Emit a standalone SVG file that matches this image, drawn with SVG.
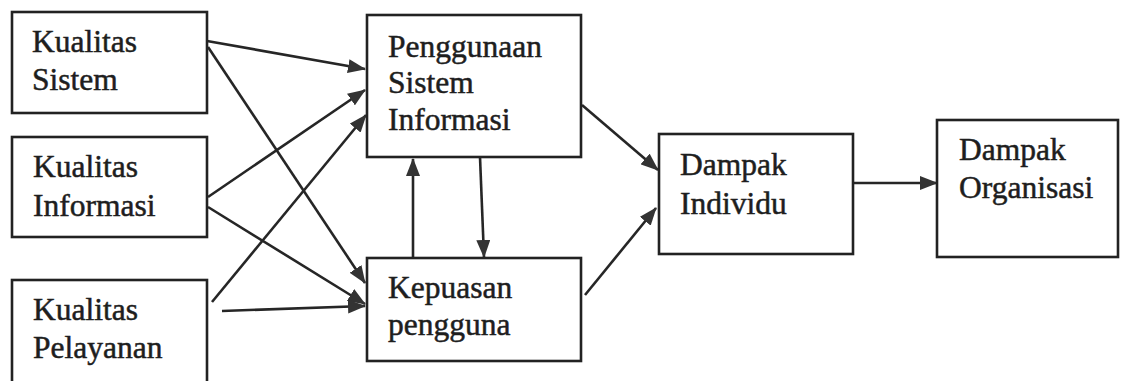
<svg xmlns="http://www.w3.org/2000/svg" width="1127" height="381" viewBox="0 0 1127 381">
<style>
.box{fill:#fff;stroke:#222;stroke-width:2.6}
.t{font-family:"Liberation Serif","Times New Roman",serif;font-size:31.5px;fill:#1e1e1e;stroke:#1e1e1e;stroke-width:0.5}
.c{stroke:#262626;stroke-width:2.6;fill:none;marker-end:url(#ah)}
</style>
<defs>
<marker id="ah" markerUnits="userSpaceOnUse" viewBox="0 0 18 14" refX="17" refY="7" markerWidth="18" markerHeight="14" orient="auto">
<path d="M0,0 L18,7 L0,14 z" fill="#333"/>
</marker>
</defs>
<rect width="1127" height="381" fill="#fff"/>
<g id="connectors">
<line class="c" x1="207" y1="41" x2="365" y2="69"/>
<line class="c" x1="208" y1="47" x2="365" y2="283"/>
<line class="c" x1="208" y1="197" x2="365" y2="90"/>
<line class="c" x1="208" y1="207" x2="365" y2="304"/>
<line class="c" x1="212" y1="302" x2="366" y2="115"/>
<line class="c" x1="222" y1="311" x2="365" y2="306"/>
<line class="c" x1="480" y1="157" x2="484" y2="257"/>
<line class="c" x1="413" y1="258" x2="413" y2="159"/>
<line class="c" x1="582" y1="105" x2="658" y2="170"/>
<line class="c" x1="585" y1="295" x2="656" y2="208"/>
<line class="c" x1="853" y1="183" x2="937" y2="183"/>
</g>
<g id="kualitas-sistem">
<rect class="box" x="12" y="12" width="195" height="101"/>
<text class="t" x="32" y="52">Kualitas</text>
<text class="t" x="32" y="90">Sistem</text>
</g>
<g id="kualitas-informasi">
<rect class="box" x="12" y="137" width="195" height="100"/>
<text class="t" x="33" y="177">Kualitas</text>
<text class="t" x="33" y="216">Informasi</text>
</g>
<g id="kualitas-pelayanan">
<rect class="box" x="12" y="280" width="195" height="120"/>
<text class="t" x="33" y="320">Kualitas</text>
<text class="t" x="33" y="358">Pelayanan</text>
</g>
<g id="penggunaan">
<rect class="box" x="367" y="15" width="214" height="142"/>
<text class="t" x="388" y="57">Penggunaan</text>
<text class="t" x="388" y="93">Sistem</text>
<text class="t" x="388" y="130">Informasi</text>
</g>
<g id="kepuasan">
<rect class="box" x="367" y="258" width="214" height="103"/>
<text class="t" x="388" y="298">Kepuasan</text>
<text class="t" x="388" y="335">pengguna</text>
</g>
<g id="dampak-individu">
<rect class="box" x="659" y="134" width="194" height="120"/>
<text class="t" x="680" y="175">Dampak</text>
<text class="t" x="680" y="214">Individu</text>
</g>
<g id="dampak-organisasi">
<rect class="box" x="937" y="120" width="181" height="137"/>
<text class="t" x="959" y="160">Dampak</text>
<text class="t" x="959" y="198">Organisasi</text>
</g>
</svg>
